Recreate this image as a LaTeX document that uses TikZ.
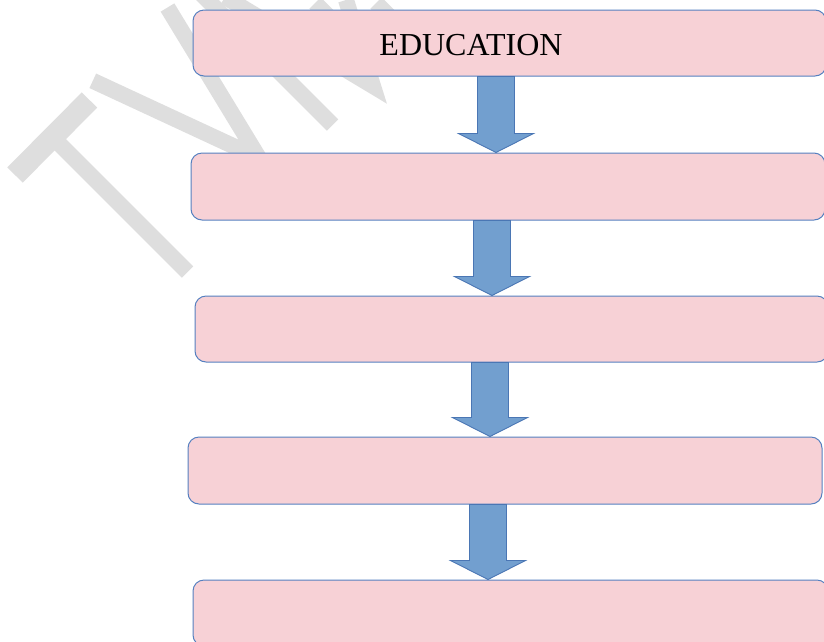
\documentclass[tikz,border=0pt]{standalone}
\usepackage{fontspec}
\setmainfont{Liberation Serif}
\usetikzlibrary{calc}
\definecolor{boxfill}{HTML}{F7D1D6}
\definecolor{boxline}{HTML}{5580C0}
\definecolor{arrowfill}{HTML}{729FCF}
\definecolor{arrowline}{HTML}{4A76B4}
\definecolor{wmgrey}{HTML}{DEDEDE}
\tikzset{
  stepbox/.style={draw=boxline, fill=boxfill, rounded corners=11pt, line width=1pt, inner sep=0pt, minimum height=66pt},
  flowarrow/.style={draw=arrowline, fill=arrowfill, line width=0.9pt, line join=miter},
  wmline/.style={draw=wmgrey, line width=16pt}
}
% block arrow: x coordinate, upper box, lower box
\newcommand{\flow}[3]{%
  \draw[flowarrow] ($(#1 |- #2.south)+(-18.5,0)$) -- ($(#1 |- #3.north)+(-18.5,-19)$)
    -- ($(#1 |- #3.north)+(-37.5,-19)$) -- (#1 |- #3.north)
    -- ($(#1 |- #3.north)+(37.5,-19)$) -- ($(#1 |- #3.north)+(18.5,-19)$)
    -- ($(#1 |- #2.south)+(18.5,0)$) -- cycle;}
\begin{document}
\begin{tikzpicture}[x=1pt,y=-1pt]
  \useasboundingbox (0,0) rectangle (824,641);
  \clip (0,0) rectangle (824,641);
  % watermark
  \draw[wmline, line width=21.7pt] (15,175) -- (89.5,100);
  \draw[wmline] (52.5,137) -- (187.5,272);
  \draw[wmline] (92.8,80.8) -- (259,158) -- (167.5,7.5);
  \draw[wmline] (200,-7.5) -- (332.5,125);
  \draw[wmline] (225,-3) -- (373,86) -- (346,0);
  \draw[wmline] (315,3) -- (370,58);
  \draw[wmline] (376,3) -- (430,57);
  % boxes
  \node[stepbox, minimum width=633pt] (e1) at (509.5,43) {};
  \node[stepbox, minimum width=634pt, minimum height=67pt] (e2) at (508,186.5) {};
  \node[stepbox, minimum width=633pt] (e3) at (511.5,329) {};
  \node[stepbox, minimum width=634pt, minimum height=67pt] (e4) at (505,470.5) {};
  \node[stepbox, minimum width=635pt] (e5) at (510.5,613) {};
  \node[anchor=base, font=\fontsize{32}{38}\selectfont, inner sep=0pt] (edu) at (471,55) {EDUCATION};
  % arrows
  \coordinate (t1) at (496,0);
  \coordinate (t2) at (492,0);
  \coordinate (t3) at (490,0);
  \coordinate (t4) at (488,0);
  \flow{t1}{e1}{e2}
  \flow{t2}{e2}{e3}
  \flow{t3}{e3}{e4}
  \flow{t4}{e4}{e5}
\end{tikzpicture}
\end{document}
